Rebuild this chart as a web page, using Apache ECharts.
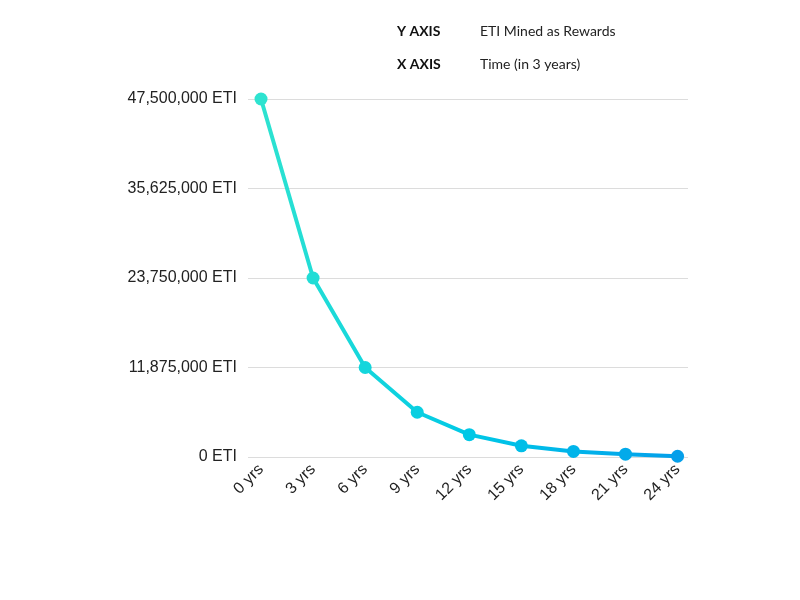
<!DOCTYPE html>
<html>
<head>
<meta charset="utf-8">
<script src="https://cdn.jsdelivr.net/npm/echarts@6/dist/echarts.min.js"></script>
<style>html,body{margin:0;padding:0;background:#fff}#c{width:800px;height:600px}</style>
</head>
<body>
<div id="c"></div>
<script>
var years = [0, 3, 6, 9, 12, 15, 18, 21, 24];
var rewards = [47500000, 23750000, 11875000, 5937500, 2968750, 1484375, 742188, 371094, 100000];
var yTicks = [0, 11875000, 23750000, 35625000, 47500000];
var headerLabels = ['Y AXIS', 'X AXIS'];
var headerTexts = ['ETI Mined as Rewards', 'Time (in 3 years)'];

var chart = echarts.init(document.getElementById('c'));
var data = years.map(function (y, i) { return [y, rewards[i]]; });
chart.setOption({
  animation: false,
  backgroundColor: '#fff',
  grid: { left: 248, right: 112, top: 99, bottom: 143, containLabel: false },
  graphic: [
    { type: 'text', left: 397, top: 24, style: { text: headerLabels[0], font: 'bold 14px Lato', fill: '#111' } },
    { type: 'text', left: 480, top: 24, style: { text: headerTexts[0], font: '14px Lato', fill: '#222' } },
    { type: 'text', left: 397, top: 57, style: { text: headerLabels[1], font: 'bold 14px Lato', fill: '#111' } },
    { type: 'text', left: 480, top: 57, style: { text: headerTexts[1], font: '14px Lato', fill: '#222' } }
  ],
  visualMap: {
    show: false, type: 'continuous', dimension: 0, min: 0, max: 24,
    inRange: { color: ['#2ee3d0', '#14d6dc', '#00c8e6', '#00b4ea', '#049fea'] }
  },
  xAxis: {
    type: 'value', min: -0.75, max: 24.6,
    axisLine: { show: false }, axisTick: { show: false }, splitLine: { show: false },
    axisLabel: {
      customValues: years, rotate: 45, margin: 10,
      fontFamily: 'Liberation Sans, Arial, sans-serif', fontSize: 16, color: '#222',
      formatter: function (v) { return v + ' yrs'; }
    }
  },
  yAxis: {
    type: 'value', min: 0, max: 47500000, interval: 11875000,
    axisLine: { show: false }, axisTick: { show: false },
    splitLine: { lineStyle: { color: '#dcdcdc', width: 1 } },
    axisLabel: {
      margin: 11, fontFamily: 'Liberation Sans, Arial, sans-serif', fontSize: 16, color: '#222',
      padding: [4, 0, 0, 0],
      formatter: function (v) { return v.toLocaleString('en-US') + ' ETI'; }
    }
  },
  series: [{
    type: 'line', data: data, symbol: 'circle', symbolSize: 13,
    lineStyle: { width: 4 }
  }]
});
</script>
</body>
</html>
